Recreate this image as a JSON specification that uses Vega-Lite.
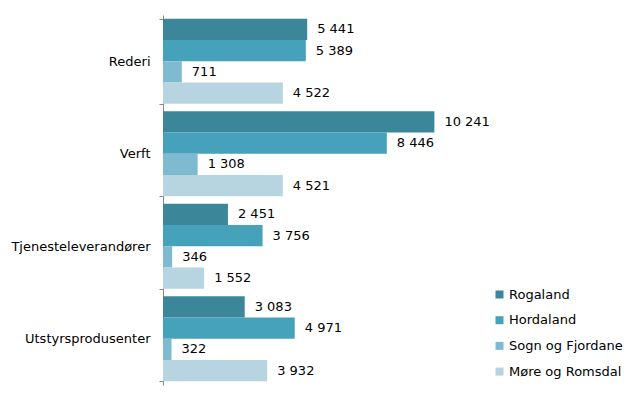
{
  "$schema": "https://vega.github.io/schema/vega-lite/v6.json",
  "width": 318,
  "height": 370,
  "autosize": {"type": "none"},
  "padding": {"left": 163, "top": 15, "right": 163, "bottom": 15},
  "background": "white",
  "config": {
    "view": {"stroke": null},
    "font": "DejaVu Sans",
    "locale": {"number": {"decimal": ",", "thousands": " ", "grouping": [3], "currency": ["", ""]}}
  },
  "data": {"values": [
    {"kategori": "Rederi", "fylke": "Rogaland", "verdi": 5441},
    {"kategori": "Rederi", "fylke": "Hordaland", "verdi": 5389},
    {"kategori": "Rederi", "fylke": "Sogn og Fjordane", "verdi": 711},
    {"kategori": "Rederi", "fylke": "Møre og Romsdal", "verdi": 4522},
    {"kategori": "Verft", "fylke": "Rogaland", "verdi": 10241},
    {"kategori": "Verft", "fylke": "Hordaland", "verdi": 8446},
    {"kategori": "Verft", "fylke": "Sogn og Fjordane", "verdi": 1308},
    {"kategori": "Verft", "fylke": "Møre og Romsdal", "verdi": 4521},
    {"kategori": "Tjenesteleverandører", "fylke": "Rogaland", "verdi": 2451},
    {"kategori": "Tjenesteleverandører", "fylke": "Hordaland", "verdi": 3756},
    {"kategori": "Tjenesteleverandører", "fylke": "Sogn og Fjordane", "verdi": 346},
    {"kategori": "Tjenesteleverandører", "fylke": "Møre og Romsdal", "verdi": 1552},
    {"kategori": "Utstyrsprodusenter", "fylke": "Rogaland", "verdi": 3083},
    {"kategori": "Utstyrsprodusenter", "fylke": "Hordaland", "verdi": 4971},
    {"kategori": "Utstyrsprodusenter", "fylke": "Sogn og Fjordane", "verdi": 322},
    {"kategori": "Utstyrsprodusenter", "fylke": "Møre og Romsdal", "verdi": 3932}
  ]},
  "encoding": {
    "y": {
      "field": "kategori", "type": "nominal",
      "sort": ["Rederi", "Verft", "Tjenesteleverandører", "Utstyrsprodusenter"],
      "scale": {"paddingInner": 0.08, "paddingOuter": 0.04},
      "axis": {
        "title": null, "tickBand": "extent", "domainColor": "#888888", "tickColor": "#888888",
        "tickSize": 4, "labelPadding": 9, "labelFontSize": 13, "labelColor": "#000000",
        "labelFont": "DejaVu Sans"
      }
    },
    "yOffset": {
      "field": "fylke", "type": "nominal",
      "sort": ["Rogaland", "Hordaland", "Sogn og Fjordane", "Møre og Romsdal"],
      "scale": {"paddingInner": 0, "paddingOuter": 0}
    },
    "x": {
      "field": "verdi", "type": "quantitative",
      "scale": {"domain": [0, 12000], "nice": false},
      "axis": null
    }
  },
  "layer": [
    {
      "mark": {"type": "bar"},
      "encoding": {
        "color": {
          "field": "fylke", "type": "nominal",
          "sort": ["Rogaland", "Hordaland", "Sogn og Fjordane", "Møre og Romsdal"],
          "scale": {
            "domain": ["Rogaland", "Hordaland", "Sogn og Fjordane", "Møre og Romsdal"],
            "range": ["#3b8698", "#46a1ba", "#7fbbd0", "#b7d5e0"]
          },
          "legend": {
            "title": null, "orient": "none", "legendX": 330, "legendY": 273,
            "symbolType": "square", "symbolSize": 64, "symbolStrokeWidth": 0,
            "labelFontSize": 13, "labelColor": "#000000", "labelFont": "DejaVu Sans",
            "rowPadding": 11.7, "labelOffset": 3
          }
        }
      }
    },
    {
      "mark": {"type": "text", "align": "left", "baseline": "middle", "dx": 10, "fontSize": 13, "color": "#000000"},
      "encoding": {
        "text": {"field": "verdi", "type": "quantitative", "format": ",d"}
      }
    }
  ]
}
